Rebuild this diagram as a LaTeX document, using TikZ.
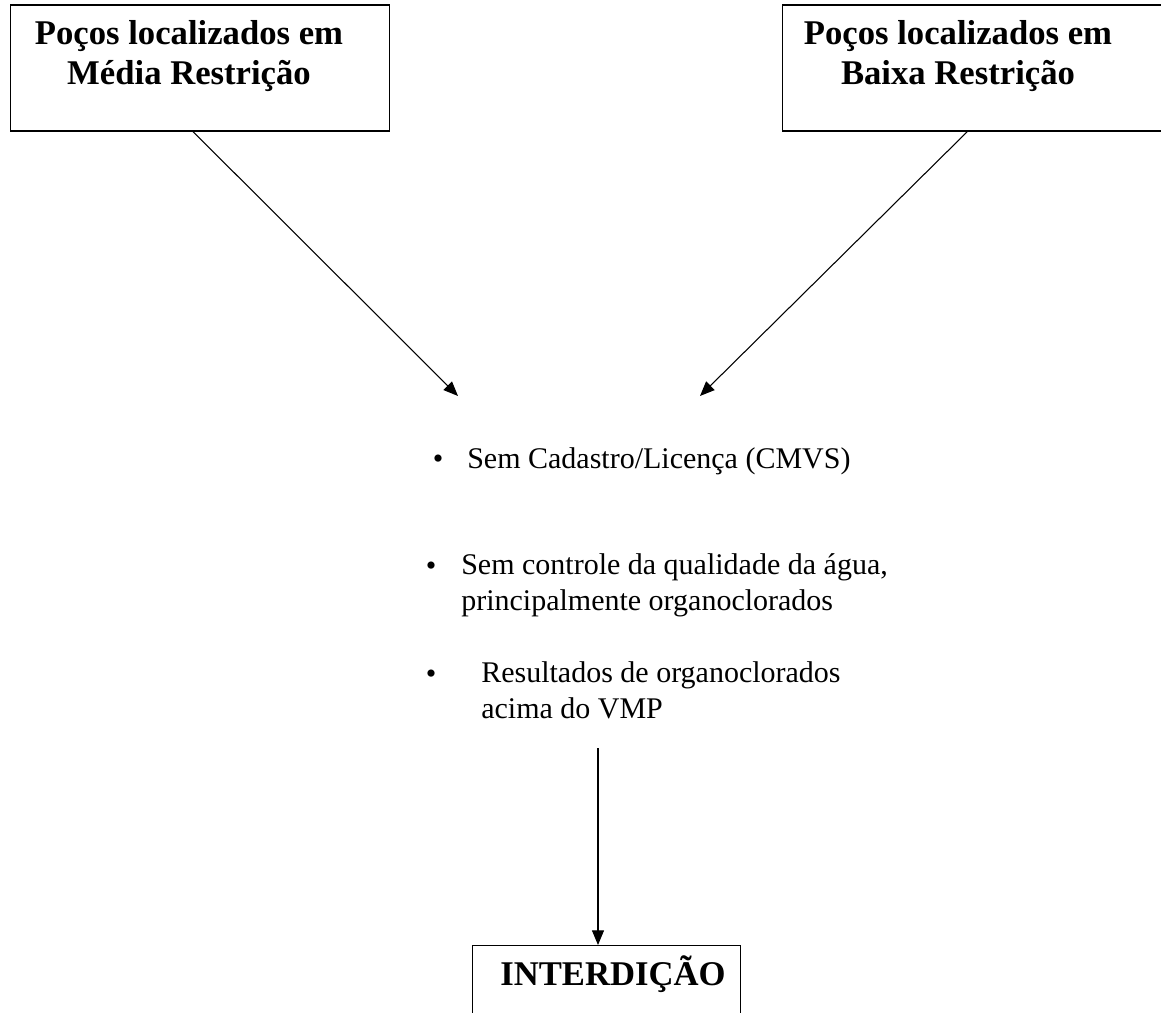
\documentclass[tikz,border=0pt]{standalone}
\usepackage{fontspec}
\setmainfont{Liberation Serif}
\usetikzlibrary{arrows.meta,positioning}

\tikzset{
  caixa/.style={draw, line width=0.9pt, anchor=north west, inner sep=0pt},
  titulo/.style={font=\fontsize{26}{30}\selectfont\bfseries, align=center, anchor=base, inner sep=0pt},
  item/.style={font=\fontsize{22.5}{26.5}\selectfont, align=left, anchor=base west, inner sep=0pt},
  marca/.style={font=\fontsize{22.5}{26.5}\selectfont, anchor=base, inner sep=0pt},
  seta/.style={line width=0.8pt, -{Triangle[length=11pt,width=9pt]}}
}

\begin{document}
\begin{tikzpicture}[x=0.75pt,y=-0.75pt]
\useasboundingbox (0,0) rectangle (1161,1013);

\node[caixa, minimum width=284.5pt, minimum height=94.5pt] (media) at (9.5,4.5) {};
\node[titulo] (tituloMedia) at (189,85) {Poços localizados em\\Média Restrição};

\node[caixa, minimum width=285pt, minimum height=94.5pt] (baixa) at (782,4.5) {};
\node[titulo] (tituloBaixa) at (958,85) {Poços localizados em\\Baixa Restrição};

\coordinate (pontaE) at (458,396);
\coordinate (pontaD) at (700,396);
\draw[seta] ([xshift=-5pt]media.south) -- (pontaE);
\draw[seta] ([xshift=-4pt]baixa.south) -- (pontaD);

\node[marca] (m1) at (438,468) {\textbullet};
\node[item] (cadastro) at (467,468) {Sem Cadastro/Licença (CMVS)};

\node[marca] (m2) at (431,575) {\textbullet};
\node[item] (controle) at (461,610) {Sem controle da qualidade da água,\\principalmente organoclorados};

\node[marca] (m3) at (431,683) {\textbullet};
\node[item] (resultados) at (481,718) {Resultados de organoclorados\\acima do VMP};

\node[caixa, minimum width=201pt, minimum height=70pt] (interdicao) at (472,945) {};
\node[titulo] (tituloInterdicao) at (613,985) {INTERDIÇÃO};

\coordinate (inicio) at (598,748);
\draw[seta] (inicio) -- (interdicao.north -| inicio);
\end{tikzpicture}
\end{document}
